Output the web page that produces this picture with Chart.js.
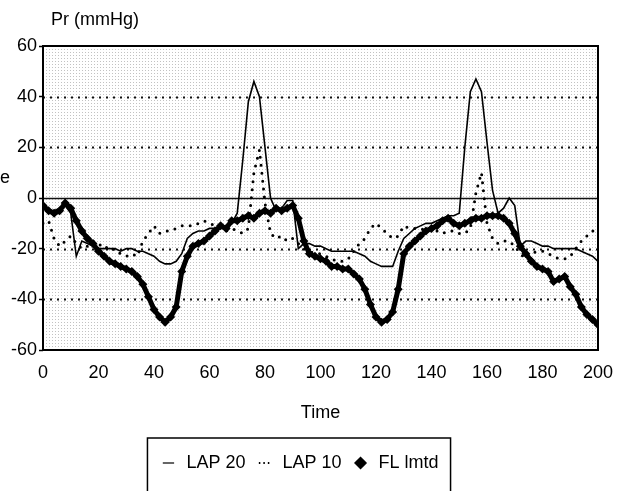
<!DOCTYPE html>
<html>
<head>
<meta charset="utf-8">
<script src="https://cdn.jsdelivr.net/npm/chart.js@4/dist/chart.umd.min.js"></script>
<style>
  html, body { margin: 0; padding: 0; background: #fff; }
  #wrap { width: 625px; height: 491px; }
</style>
</head>
<body>
<div id="wrap"><canvas id="prChart" width="625" height="491"></canvas></div>
<script>
// time axis, every 2 units
const time = Array.from({ length: 101 }, (_, i) => i * 2);

const lap20 = [
  -4, -5, -5, -4, -3, -6, -23, -17, -18, -19, -20,
  -20, -20, -20, -21, -20, -20, -21, -21, -22, -23,
  -25, -26, -26, -25, -22, -16, -14, -13, -13, -12,
  -12, -11, -11, -10, -6, 15, 38, 46, 40, 20,
  0, -5, -4, -1, -1, -20, -18, -18, -19, -19,
  -20, -21, -21, -21, -21, -21, -22, -23, -25, -26,
  -27, -27, -27, -21, -16, -14, -12, -11, -10, -10,
  -9, -8, -7, -7, -6, 20, 42, 47, 42, 22,
  3, -6, -4, 0, -3, -19, -17, -17, -18, -19,
  -19, -20, -20, -20, -20, -20, -21, -22, -23, -25
];

const lap10 = [
  -10, -9, -16, -19, -17, -15, -18, -20, -19, -17, -18,
  -20, -19, -21, -22, -23, -22, -23, -17, -14, -11,
  -14, -13, -13, -12, -11, -11, -11, -10, -9, -10,
  -11, -12, -13, -12, -13, -14, -12, 10, 19, -2,
  -14, -16, -15, -17, -16, -18, -20, -21, -22, -22,
  -23, -24, -25, -25, -24, -21, -18, -16, -12, -10,
  -12, -14, -16, -15, -11, -12, -12, -12, -13, -12,
  -13, -14, -13, -13, -14, -14, -12, 2, 10, -10,
  -16, -18, -17, -17, -19, -22, -24, -22, -21, -21,
  -22, -23, -24, -24, -23, -20, -17, -15, -13, -13
];

const flLmtd = [
  -3, -5, -6, -5, -2, -4, -9, -13, -16, -18, -21,
  -23, -25, -26, -27, -28, -29, -31, -34, -39, -44,
  -47, -49, -47, -43, -29, -23, -19, -18, -17, -15,
  -13, -11, -12, -9, -9, -8, -7, -8, -6, -5,
  -6, -4, -5, -4, -3, -8, -17, -22, -23, -24,
  -25, -27, -27, -28, -28, -30, -32, -36, -42, -47,
  -49, -48, -45, -36, -22, -19, -17, -15, -13, -12,
  -11, -9, -8, -10, -11, -10, -9, -8, -8, -7,
  -7, -7, -8, -10, -14, -19, -22, -25, -27, -28,
  -29, -33, -32, -31, -35, -38, -43, -46, -48, -50
];

const xTicks = [0, 20, 40, 60, 80, 100, 120, 140, 160, 180, 200];
const yTicks = [-60, -40, -20, 0, 20, 40, 60];
const gridValues = [-40, -20, 20, 40];

const FONT = "'Liberation Sans', Arial, sans-serif";

function toPoints(vals) {
  return time.map((t, i) => ({ x: t, y: vals[i] }));
}

// stippled paper, grid lines, frame, legend box, loose texts
const paperPlugin = {
  id: 'paper',
  beforeDatasetsDraw(chart) {
    const { ctx, chartArea: a, scales } = chart;
    const tile = document.createElement('canvas');
    tile.width = 3; tile.height = 3;
    const t = tile.getContext('2d');
    t.fillStyle = '#ffffff';
    t.fillRect(0, 0, 3, 3);
    t.fillStyle = '#c2c2c2';
    t.fillRect(1, 1, 1, 1);
    ctx.save();
    ctx.fillStyle = ctx.createPattern(tile, 'repeat');
    ctx.fillRect(a.left, a.top, a.width, a.height);

    ctx.strokeStyle = '#111';
    gridValues.forEach(v => {
      const y = Math.round(scales.y.getPixelForValue(v)) + 0.5;
      ctx.lineWidth = 2;
      ctx.setLineDash([2, 5]);
      ctx.beginPath();
      ctx.moveTo(a.left, y);
      ctx.lineTo(a.right, y);
      ctx.stroke();
    });
    const y0 = Math.round(scales.y.getPixelForValue(0)) + 0.5;
    ctx.setLineDash([]);
    ctx.lineWidth = 1.5;
    ctx.beginPath();
    ctx.moveTo(a.left, y0);
    ctx.lineTo(a.right, y0);
    ctx.stroke();
    ctx.restore();
  },
  afterDraw(chart) {
    const { ctx, chartArea: a, legend } = chart;
    ctx.save();
    ctx.strokeStyle = '#000';
    ctx.lineWidth = 2;
    ctx.strokeRect(a.left, a.top, a.width, a.height);

    // legend frame, open at the bottom
    const boxes = legend.legendHitBoxes;
    if (boxes && boxes.length) {
      const l = Math.min(...boxes.map(b => b.left)) - 12;
      const r = Math.max(...boxes.map(b => b.left + b.width)) + 12;
      const top = boxes[0].top - 16;
      ctx.lineWidth = 1.5;
      ctx.beginPath();
      ctx.moveTo(l, chart.height + 2);
      ctx.lineTo(l, top);
      ctx.lineTo(r, top);
      ctx.lineTo(r, chart.height + 2);
      ctx.stroke();
    }

    ctx.fillStyle = '#000';
    ctx.font = '18px ' + FONT;
    ctx.textBaseline = 'middle';
    ctx.textAlign = 'left';
    ctx.fillText('Pr (mmHg)', a.left + 8, 20);
    ctx.fillText('e', 0, 178);
    ctx.restore();
  }
};

const ctx = document.getElementById('prChart').getContext('2d');

new Chart(ctx, {
  type: 'line',
  data: {
    datasets: [
      {
        label: 'LAP 20',
        data: toPoints(lap20),
        borderColor: '#000',
        borderWidth: 1.6,
        pointRadius: 0,
        pointStyle: 'line',
        tension: 0
      },
      {
        label: 'LAP 10',
        data: toPoints(lap10),
        borderColor: '#000',
        borderWidth: 3,
        borderDash: [0, 8],
        borderCapStyle: 'round',
        pointRadius: 0,
        pointStyle: 'line',
        tension: 0
      },
      {
        label: 'FL lmtd',
        data: toPoints(flLmtd),
        borderColor: '#000',
        borderWidth: 5,
        pointStyle: 'rectRot',
        pointRadius: 4.5,
        pointBackgroundColor: '#000',
        pointBorderWidth: 0,
        tension: 0
      }
    ]
  },
  options: {
    responsive: false,
    animation: false,
    layout: { padding: { left: 0, right: 27, top: 46, bottom: 9 } },
    plugins: {
      tooltip: { enabled: false },
      legend: {
        position: 'bottom',
        labels: {
          usePointStyle: true,
          boxHeight: 8,
          padding: 10,
          color: '#000',
          font: { family: FONT, size: 18 },
          generateLabels: chart => chart.data.datasets.map((ds, i) => ({
            text: ds.label,
            datasetIndex: i,
            pointStyle: i === 2 ? 'rectRot' : 'line',
            fillStyle: '#000',
            strokeStyle: '#000',
            lineWidth: i === 1 ? 1.8 : 1.2,
            lineDash: i === 1 ? [1.5, 3] : [],
            fontColor: '#000',
            hidden: false
          }))
        }
      }
    },
    scales: {
      x: {
        type: 'linear',
        min: 0,
        max: 200,
        afterBuildTicks: s => { s.ticks = xTicks.map(v => ({ value: v })); },
        afterFit: s => { s.height = 94; },
        ticks: { color: '#000', font: { family: FONT, size: 18 }, padding: 4, maxRotation: 0 },
        grid: { display: false },
        border: { display: false },
        title: {
          display: true,
          text: 'Time',
          color: '#000',
          font: { family: FONT, size: 18 },
          padding: { top: 0, bottom: 20 }
        }
      },
      y: {
        min: -60,
        max: 60,
        afterBuildTicks: s => { s.ticks = yTicks.map(v => ({ value: v })); },
        afterFit: s => { s.width = 43; },
        ticks: { color: '#000', font: { family: FONT, size: 18 }, padding: 2 },
        grid: { drawOnChartArea: false, drawTicks: true, tickLength: 4, tickColor: '#000', tickWidth: 1.5 },
        border: { display: false }
      }
    }
  },
  plugins: [paperPlugin]
});
</script>
</body>
</html>
